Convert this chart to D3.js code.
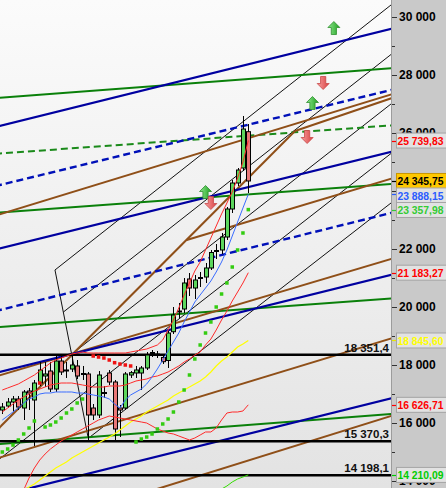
<!DOCTYPE html>
<html><head><meta charset="utf-8">
<script src="https://cdn.jsdelivr.net/npm/d3@7"></script>
<style>html,body{margin:0;padding:0;background:#fff;}svg{display:block;}</style>
</head><body>
<svg id="c" width="446" height="488"></svg>
<script>
// ---------- DATA ----------
const candleOpen  = [16448,16586,16724,16828,16517,17103,16793,17379,17621,17793,17172,18138,17828,17862,17966,17672,17690,16517,16276,17017,17724,17414,16517,16517,17655,17724,17724,17897,18397,18345,18259,18155,19148,19828,19931,20966,20655,20983,21034,21345,21914,21966,22414,23379,24276,24793,26045];
const candleHigh  = [16690,16862,16931,16931,17138,17207,17483,18103,18103,18103,18345,18345,18103,18345,18172,17966,17759,16655,17793,17276,17828,17483,16621,17759,17793,17966,17966,18448,18517,18483,18351,19172,20000,20138,20999,21172,21103,21207,21517,21966,22172,22552,23448,24379,24793,26586,26310];
const candleLow   = [16310,16517,16379,16448,16103,16448,15207,17276,17241,17069,17069,17655,17552,17759,17517,17483,15370,16103,16172,16862,17310,15370,15517,16448,17552,17552,17138,17828,18276,18241,18034,17897,19069,19621,19793,20379,20276,20690,20828,21276,21655,21828,22310,23241,24172,24690,23931];
const candleClose = [16552,16724,16828,16552,17069,17034,17379,17828,17690,17172,18138,17759,17793,18000,17621,17707,16276,16276,17655,17052,17414,15793,16448,17690,17735,17828,17897,18345,18431,18379,18114,19103,19724,19862,20828,20655,20931,21017,21345,21879,21948,22414,23379,24276,24724,26138,24345.75];

const maBlue   = [16103,16241,16379,16517,16690,16828,16897,17000,17034,17034,17069,17069,17069,17069,17034,17034,17000,16966,16931,16897,16828,16655,16517,16793,16966,17069,17172,17345,17586,17862,18172,18483,18793,19103,19483,19828,20172,20414,20655,20897,21207,21552,21966,22448,22931,23414,23888.15];
const bandUpper= [17138,17207,17276,17345,17448,17552,17655,17793,17931,18069,18172,18241,18310,18379,18414,18448,18414,18414,18414,18414,18414,18414,18414,18414,18448,18483,18517,18552,18621,18690,18862,19207,19552,19966,20414,20828,21241,21552,21966,22379,22793,23207,23586,23966,24448,25000,25739.83];
const bandLower= [12310,12655,12999,13345,13690,14103,14448,14724,14931,15103,15241,15379,15483,15586,15690,15793,15897,16000,16103,16172,16241,16207,16172,16138,16103,16069,16034,16000,15897,15793,15724,15655,15621,15552,15483,15414,15483,15586,15690,15690,15828,16103,16345,16379,16379,16414,16626.71];
const maRed    = [16379,16517,16655,16793,16897,17000,17103,17172,17241,17310,17345,17379,17379,17379,17345,17310,17276,17241,17241,17241,17276,17276,17276,17310,17379,17448,17483,17517,17586,17621,17690,17759,17862,17966,18103,18207,18345,18448,18690,18896,19207,19552,19862,20207,20517,20828,21183.27];
const maYellow = [null,null,null,13586,13690,13793,13897,14034,14172,14310,14448,14552,14655,14793,14897,15000,15103,15207,15310,15414,15517,15621,15759,15897,16034,16138,16241,16379,16483,16586,16690,16793,16931,17034,17138,17241,17345,17448,17586,17759,17966,18138,18276,18448,18621,18724,18845.60];
const lineLime = [null,null,null,null,null,null,null,null,null,null,null,null,null,null,null,null,null,null,null,null,null,null,null,null,null,null,null,null,null,null,null,null,null,null,null,null,null,null,null,null,null,13724,13828,13966,14069,14138,14210.09];
const sarValue = [15000,15103,15241,15414,15621,15828,16069,17379,15862,15931,16034,16172,16345,16483,16690,16828,null,18310,18276,18241,18172,18079,18034,18000,17966,15345,15448,15517,15621,15793,15966,16138,16379,16724,17138,17655,18207,18690,19103,19483,20000,20448,20828,21379,21966,22552,23357.98];
const sarBear  = [0,0,0,0,0,0,0,1,0,0,0,0,0,0,0,0,0,1,1,1,1,1,1,1,1,0,0,0,0,0,0,0,0,0,0,0,0,0,0,0,0,0,0,0,0,0,0];

// trend lines: [index1, value1, index2, value2, mode]
const blueSolid   = [[0,26262,70,29465,"full"],[0,22038,70,25224,"full"],[0,17779,70,20983,"full"],[0,13517,70,16727,"full"]];
const blueDashed  = [[0,24227,70,27362,"full"],[0,19917,70,23120,"full"]];
const greenSolid  = [[0,27224,70,28193,"full"],[0,23265,70,24207,"full"],[0,19317,70,20258,"full"],[0,15282,70,16272,"full"]];
const greenDashed = [[0,25300,70,26224,"full"]];
const brownLines  = [[0,23220,70,27176,"full"],[0,17672,70,21510,"full"],[0,14834,70,18762,"full"],[0,12062,70,16086,"full"],
                     [0,15941,54.73,26069,"toEnd"],[54.73,26069,70,27027,"ray"],[34.48,22310,70,24276,"ray"]];
const pitchfork   = [[9.85,21276,16.08,15472,"seg"],[9.85,21276,72.68,30414,"ray"],[11.41,19824,72.68,28707,"ray"],
                     [12.97,18372,72.68,27000,"ray"],[14.52,16924,72.68,25293,"full"],[16.08,15472,72.68,23586,"ray"]];

const levelValues = [18351.4, 15370.3, 14198.1];
const axisTicks   = [14000,15000,16000,17000,18000,19000,20000,21000,22000,23000,24000,25000,26000,27000,28000,29000,30000];
const axisLabels  = [14000,16000,18000,20000,22000,26000,28000,30000];
const priceLabels = [25739.83, 24345.75, 23888.15, 23357.98, 21183.27, 18845.60, 16626.71, 14210.09];

const signalIdx = [62, 60, 58, 57, 38, 39];
const signalVal = [29620, 27724, 27034, 25862, 23965, 23586];
const signalDir = ["up","down","up","down","up","down"];

// ---------- STYLES ----------
const labelColors = ["#ff0000","#000000","#2a5cff","#33cc33","#ff0000","#ffff00","#ff0000","#00cc00"];
const labelFills  = ["#e2e2e2","#ffc800","#e2e2e2","#e2e2e2","#e2e2e2","#e2e2e2","#e2e2e2","#e2e2e2"];
const FONT = "'Liberation Sans', Arial, sans-serif";

// ---------- CHART ----------
const W = 446, H = 488, plotW = 391;
const svg = d3.select("#c");
const x = d3.scaleLinear().domain([0, 46]).range([2.3, 248.3]);
const y = d3.scaleLinear().domain([14000, 30000]).range([481, 17]);
const loc = d3.formatLocale({decimal: ",", thousands: " ", grouping: [3], currency: ["", ""]});
const f2 = loc.format(",.2f"), f1 = loc.format(",.1f"), f0 = loc.format(",.0f");

const defs = svg.append("defs");
const bg = defs.append("linearGradient").attr("id","bg").attr("x1",0).attr("y1",0).attr("x2",0).attr("y2",1);
bg.append("stop").attr("offset","0%").attr("stop-color","#fbfbfb");
bg.append("stop").attr("offset","100%").attr("stop-color","#e3e3e3");
const gG = defs.append("linearGradient").attr("id","ga").attr("x1",0).attr("y1",0).attr("x2",1).attr("y2",0);
gG.append("stop").attr("offset","0%").attr("stop-color","#8ee88e");
gG.append("stop").attr("offset","100%").attr("stop-color","#1f9f1f");
const rG = defs.append("linearGradient").attr("id","ra").attr("x1",0).attr("y1",0).attr("x2",1).attr("y2",0);
rG.append("stop").attr("offset","0%").attr("stop-color","#f7a0a0");
rG.append("stop").attr("offset","100%").attr("stop-color","#d94040");
defs.append("clipPath").attr("id","clip").append("rect").attr("x",0).attr("y",0).attr("width",plotW).attr("height",H);

svg.append("rect").attr("x",0).attr("y",0).attr("width",plotW).attr("height",H).attr("fill","url(#bg)");

const plot = svg.append("g").attr("clip-path","url(#clip)");
const xMin = x.invert(-5), xMax = x.invert(plotW + 5);
const lineGen = d3.line().x(d => x(d[0])).y(d => y(d[1]));

function trendPts(l) {
  const [i1, v1, i2, v2, mode] = l;
  const f = i => v1 + (v2 - v1) * (i - i1) / (i2 - i1);
  let a = i1, b = i2;
  if (mode === "full") { a = xMin; b = xMax; }
  else if (mode === "ray") { b = xMax; }
  else if (mode === "toEnd") { a = xMin; }
  return [[a, f(a)], [b, f(b)]];
}
function drawTrend(arr, color, width, dash) {
  plot.append("g").selectAll("path").data(arr).join("path")
    .attr("d", d => lineGen(trendPts(d)))
    .attr("fill","none").attr("stroke",color).attr("stroke-width",width)
    .attr("stroke-dasharray", dash || null);
}
drawTrend(pitchfork, "#111", 1);
drawTrend(greenSolid, "#0a800a", 2);
drawTrend(greenDashed, "#1a8a1a", 2, "7,4");
drawTrend(brownLines, "#8f4f18", 2);
drawTrend(blueSolid, "#0000a0", 2.2);
drawTrend(blueDashed, "#0010b8", 2.4, "7,4");

// horizontal levels
plot.append("g").selectAll("line").data(levelValues).join("line")
  .attr("x1",0).attr("x2",plotW).attr("y1",d=>y(d)).attr("y2",d=>y(d))
  .attr("stroke","#000").attr("stroke-width",2.4);
svg.append("g").selectAll("text").data(levelValues).join("text")
  .attr("x",389).attr("y",d=>y(d)-3).attr("text-anchor","end")
  .attr("font-family",FONT).attr("font-size",11.5).attr("font-weight","bold").attr("fill","#111")
  .text(d=>f1(d));

// candles
const idx = d3.range(candleOpen.length);
const cg = plot.append("g");
cg.selectAll("line").data(idx).join("line")
  .attr("x1",i=>Math.round(x(i))+0.5).attr("x2",i=>Math.round(x(i))+0.5)
  .attr("y1",i=>y(candleHigh[i])).attr("y2",i=>y(candleLow[i]))
  .attr("stroke","#000").attr("stroke-width",1);
cg.selectAll("rect").data(idx).join("rect")
  .attr("x",i=>Math.round(x(i))-1.5).attr("width",4)
  .attr("y",i=>y(Math.max(candleOpen[i],candleClose[i])))
  .attr("height",i=>Math.max(0.5, Math.abs(y(candleOpen[i])-y(candleClose[i]))))
  .attr("fill",i=>candleClose[i]>=candleOpen[i] ? "#5cd65c" : "#e87878")
  .attr("stroke","#000").attr("stroke-width",1);

// indicator lines
const seriesLine = d3.line().defined(d => d[1] != null).x(d => x(d[0])).y(d => y(d[1]));
function drawSeries(arr, color, width) {
  plot.append("path").attr("d", seriesLine(arr.map((v,i)=>[i,v])))
    .attr("fill","none").attr("stroke",color).attr("stroke-width",width);
}
drawSeries(maYellow, "#ffff00", 1.2);
drawSeries(bandLower, "#ff2a2a", 1);
drawSeries(maRed, "#ff2a2a", 1);
drawSeries(bandUpper, "#ff2a2a", 1);
drawSeries(maBlue, "#3a6cff", 1);
drawSeries(lineLime, "#33dd00", 1);

// SAR dots
plot.append("g").selectAll("rect").data(idx.filter(i=>sarValue[i]!=null)).join("rect")
  .attr("x",i=>x(i)-1.75).attr("y",i=>y(sarValue[i])-1.75).attr("width",3.5).attr("height",3.5)
  .attr("fill",i=>sarBear[i] ? "#ee1111" : "#33cc11");

// signal arrows
function arrowPath(cx, cy, up) {
  const s = up ? 1 : -1;
  const p = [[0,-6.5],[6,-0.5],[2.6,-0.5],[2.6,6.5],[-2.6,6.5],[-2.6,-0.5],[-6,-0.5]];
  return "M" + p.map(q => [cx+q[0], cy+s*q[1]].join(",")).join("L") + "Z";
}
plot.append("g").selectAll("path").data(d3.range(signalIdx.length)).join("path")
  .attr("d", k => arrowPath(x(signalIdx[k]), y(signalVal[k]), signalDir[k]==="up"))
  .attr("fill", k => signalDir[k]==="up" ? "url(#ga)" : "url(#ra)")
  .attr("stroke", k => signalDir[k]==="up" ? "#2f8f2f" : "#c84848").attr("stroke-width",0.8);

// right axis panel
svg.append("rect").attr("x",plotW).attr("y",0).attr("width",W-plotW).attr("height",H).attr("fill","#c9c9c9");
svg.append("line").attr("x1",plotW+0.5).attr("x2",plotW+0.5).attr("y1",0).attr("y2",H).attr("stroke","#9c9c9c");
const ax = svg.append("g");
ax.selectAll("line").data(axisTicks).join("line")
  .attr("x1",plotW+1).attr("x2",d=> d%2000===0 ? plotW+6 : plotW+4)
  .attr("y1",d=>Math.round(y(d))+0.5).attr("y2",d=>Math.round(y(d))+0.5)
  .attr("stroke","#333").attr("stroke-width",1);
ax.selectAll("text").data(axisLabels).join("text")
  .attr("x",plotW+8).attr("y",d=>y(d)).attr("dy","0.36em")
  .attr("font-family",FONT).attr("font-size",12).attr("font-weight","bold").attr("fill","#000")
  .text(d=>f0(d));

// price labels with simple collision avoidance
const order = d3.range(priceLabels.length).sort((a,b)=>y(priceLabels[a])-y(priceLabels[b]));
const ly = {};
let last = -100;
order.forEach(k => { let p = Math.max(y(priceLabels[k]), last + 14.5); ly[k] = p; last = p; });
const pl = svg.append("g");
const items = pl.selectAll("g").data(d3.range(priceLabels.length)).join("g");
items.append("line").attr("x1",plotW+1).attr("x2",plotW+5)
  .attr("y1",k=>Math.round(y(priceLabels[k]))+0.5).attr("y2",k=>Math.round(y(priceLabels[k]))+0.5)
  .attr("stroke",k=>labelColors[k]==="#ffff00" ? "#e6e600" : labelColors[k]).attr("stroke-width",1.2);
items.append("rect").attr("x",plotW+5.5).attr("y",k=>ly[k]-7.5).attr("width",60).attr("height",15)
  .attr("fill",k=>labelFills[k]).attr("stroke",k=>k===1 ? "#c89600" : "#a4a4a4").attr("stroke-width",1);
items.append("text").attr("x",plotW+6.5).attr("y",k=>ly[k]).attr("dy","0.36em")
  .attr("font-family",FONT).attr("font-size",11.5).attr("font-weight","bold")
  .attr("textLength",46).attr("lengthAdjust","spacingAndGlyphs")
  .attr("fill",k=>labelColors[k]).text(k=>f2(priceLabels[k]));
</script>
</body></html>
